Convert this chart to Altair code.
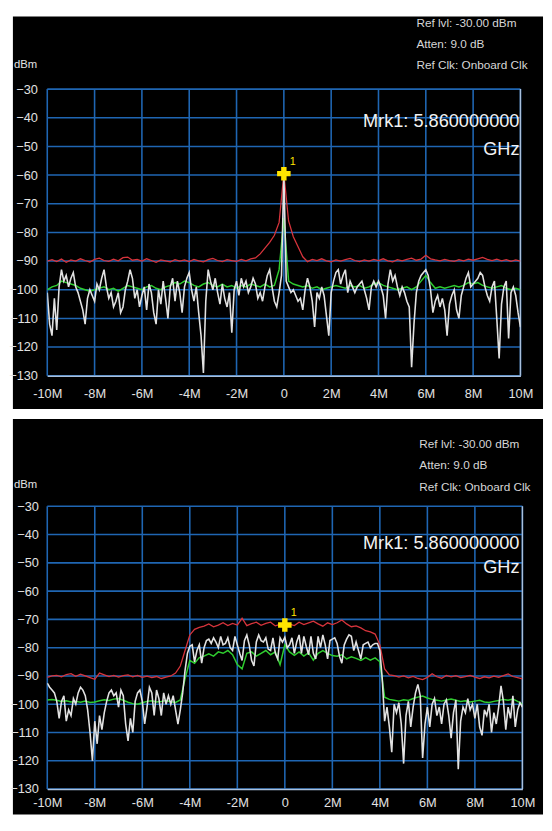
import altair as alt
import numpy as np
import pandas as pd

# ---------------- data ----------------
X_TICKS = [-10, -8, -6, -4, -2, 0, 2, 4, 6, 8, 10]
Y_TICKS = [-130, -120, -110, -100, -90, -80, -70, -60, -50, -40, -30]
INFO_LINES = ["Ref lvl: -30.00 dBm", "Atten: 9.0 dB", "Ref Clk: Onboard Clk"]
MARKER_LINES = ["Mrk1: 5.860000000", "GHz"]
UNIT = "dBm"
MARKER_NAME = "1"

# top panel (0.1 MHz bins for live trace, 0.2 MHz for max-hold / average)
TOP_WHITE = [
    -101, -112, -116, -103, -114, -99, -93, -97, -95, -99,
    -96, -94, -99, -101, -104, -107, -112, -103, -100, -102,
    -104, -98, -100, -96, -93, -99, -103, -101, -106, -104,
    -101, -108, -106, -100, -97, -93, -96, -103, -100, -106,
    -102, -99, -107, -98, -101, -108, -112, -100, -105, -97,
    -103, -110, -99, -96, -104, -97, -101, -108, -99, -96,
    -94, -100, -104, -99, -108, -116, -129, -104, -93, -97,
    -100, -96, -101, -105, -98, -103, -106, -101, -115, -100,
    -97, -102, -96, -99, -97, -101, -99, -96, -98, -103,
    -101, -104, -99, -95, -93, -99, -104, -106, -101, -95,
    -59.5,
    -97, -99, -101, -100, -102, -104, -103, -107, -100, -96,
    -99, -104, -113, -101, -103, -99, -102, -109, -116, -101,
    -97, -94, -93, -98, -95, -93, -101, -97, -99, -101,
    -99, -98, -97, -100, -103, -107, -99, -97, -99, -97,
    -99, -102, -110, -98, -93, -97, -95, -99, -102, -99,
    -101, -104, -106, -127, -112, -101, -97, -95, -94, -93,
    -95, -100, -108, -104, -102, -106, -103, -107, -116, -105,
    -102, -100, -107, -110, -102, -99, -96, -94, -99, -98,
    -97, -96, -94, -95, -99, -102, -104, -99, -97, -110,
    -124, -105, -99, -97, -117, -101, -99, -102, -108, -113,
]
TOP_RED = [
    -90.0, -89.5, -90.2, -89.3, -90.4, -89.6, -90.0, -89.2, -89.8, -90.3,
    -89.4, -89.0, -89.8, -90.1, -89.3, -89.9, -88.8, -88.6, -89.7, -89.4,
    -90.0, -89.2, -89.8, -90.4, -89.6, -89.9, -90.3, -89.5, -90.0, -89.6,
    -90.2, -89.4, -89.9, -90.3, -89.5, -89.1, -89.8, -90.2, -89.5, -89.8,
    -90.1, -89.4, -89.9, -89.2, -88.9, -87.5, -85.5, -83.5, -81.0, -76.5,
    -59.5,
    -76.0, -81.5, -85.0, -88.5, -90.2, -89.4, -89.8, -89.2, -89.9, -90.3,
    -89.6, -90.0, -89.5, -89.1, -89.8, -90.2, -89.6, -90.0, -89.4, -89.8,
    -89.2, -89.9, -90.3, -89.5, -89.9, -89.4, -89.0, -89.7, -89.3, -88.0,
    -89.2, -89.6, -89.9, -89.4, -89.8, -90.1, -89.5, -89.9, -89.3, -89.7,
    -89.2, -88.7, -89.4, -89.8, -89.3, -89.9, -89.5, -90.1, -89.6, -90.0,
]
TOP_GREEN = [
    -100, -99, -98.5, -97, -97.5, -98, -98.5, -99.5, -100, -100.5,
    -100, -99.5, -99, -100, -99.5, -100.5, -99.5, -98.5, -99, -99.5,
    -100, -99, -98.5, -99.5, -100, -99, -98.5, -97.5, -98, -97,
    -97.5, -98.5, -99, -98, -97.5, -98.5, -99, -98, -99, -98.5,
    -99.5, -98.5, -99, -98, -98.5, -99, -98, -99, -98.5, -93,
    -75,
    -97, -98, -98.5, -99, -98.5, -99.5, -99, -100, -99.5, -99,
    -98.5, -99, -99.5, -98.5, -99, -98.5, -99.5, -99, -98, -97.5,
    -98.5, -99, -99.5, -100, -99.5, -99, -100, -99, -97, -95,
    -97.5, -99.5, -99, -99.5, -99, -98.5, -99, -98.5, -97.5, -98,
    -97.5, -98.5, -99, -99.5, -99, -98.5, -99.5, -100, -99.5, -100,
]
TOP_MARKER = {"f": [0.0], "v": [-59.5]}

# bottom panel
BOT_WHITE = [
    -92.5, -94, -95, -96, -99, -105, -99, -97, -106, -102,
    -104, -98, -100, -96, -94, -95, -97, -102, -110, -120,
    -106, -114, -104, -109, -103, -99, -96, -95, -97, -96,
    -101, -95, -97, -107, -113, -105, -110, -99, -96, -95,
    -99, -107, -101, -94, -96, -104, -95, -98, -104, -96,
    -100, -97, -100, -97, -102, -107, -102, -96, -88, -82,
    -79.5, -79, -85, -81, -79, -85.5, -80, -77.5, -77, -78.5,
    -76.5, -78, -80, -76, -79, -78.5, -76.5, -80, -81, -76,
    -79, -82, -84.5, -77.5, -75.5, -79, -84.5, -86.5, -78, -75.5,
    -77.5, -78, -76.5, -80.5, -81, -76.5, -82, -84, -76.5, -78,
    -76.3, -80, -79, -76.5, -82, -78, -75.5, -82, -76, -79.5,
    -82.5, -76, -82, -84, -76, -80, -75.5, -79, -84, -77.5,
    -77, -76.5, -78.5, -83, -85.5, -79, -77, -75.5, -76, -81,
    -78, -81, -84, -79, -78.5, -78, -80, -79, -78.5, -78.5,
    -81, -91, -106, -101, -108, -117, -100, -103, -99.5, -107,
    -121, -104, -99, -108, -101, -96, -93, -97, -119, -107,
    -101, -108, -100, -98, -104, -101, -107, -100, -98.5, -104,
    -112, -103, -98.5, -123, -106, -101, -103, -98, -102, -100,
    -105, -100, -108, -111, -102, -104, -100, -110, -103, -107,
    -101, -93.5, -99, -109, -101, -105, -97, -108, -102, -99.5, -101,
]
BOT_RED = [
    -90.5, -90, -89.8, -90.3, -89.5, -89.2, -90.1, -89.4, -90, -90.6,
    -91.2, -89, -89.6, -90.2, -89.8, -90.4, -89.9, -89.6, -90.3, -89.8,
    -90.5, -90.1, -90.6, -90.2, -90.9, -90.4, -90, -89, -86.5, -81,
    -75.5, -73.5, -72.8, -72.4, -71.6, -72.6, -72, -71.2, -72.2, -71.4,
    -72, -69.6, -72.2, -71.5, -71, -72.1, -71.4, -71, -72.3, -71.8,
    -71.5,
    -71.7, -72.2, -71, -71.8, -71.2, -70.6, -71.6, -72.4, -71.2, -71.8,
    -71.2, -70.2, -71.6, -72.6, -72.3, -73, -74, -74.4, -75.2, -79,
    -87.5, -89.6, -89.9, -90.4, -90, -90.7, -90.2, -90.9, -91.3, -90.5,
    -89.2, -90.3, -90.8, -89.8, -90.3, -89.9, -90.6, -90.2, -89.8, -90.4,
    -90.9, -90.3, -90.7, -90.1, -90.5, -89.9, -89.3, -90.2, -90.6, -91,
]
BOT_GREEN = [
    -98.5, -98.3, -98.6, -99, -98.8, -99.2, -99, -99.3, -98.9, -99.4,
    -99.2, -98.8, -98.4, -98.7, -98.2, -98, -98.6, -99.3, -99.8, -100,
    -99.5, -99, -98.8, -99.2, -99, -98.7, -99.1, -99.4, -98.5, -91,
    -84.5, -85.5, -83.5, -83, -82.2, -83, -81.5, -82, -81, -82.5,
    -86, -87.5, -82, -81.5, -83, -82, -81, -82.5, -81.5, -86,
    -79,
    -81.5, -82.7, -81.5, -83, -81.8, -84.4, -82, -81, -82, -82.8,
    -83, -82.5, -84, -83.2, -83.8, -84.5, -83.5, -84.4, -83.6, -85,
    -97.5, -98.3, -98.6, -98.9, -98.4, -98.7, -98, -97.5, -97.1, -97.8,
    -98.3, -98.6, -98.9, -98.5, -98.2, -98.6, -99, -98.8, -99.2, -98.9,
    -98.6, -99.2, -99.4, -99, -98.7, -98.3, -98.6, -98.2, -99, -100,
]
BOT_MARKER = {"f": [0.0], "v": [-72.0]}

# ---------------- style ----------------
GRID = "#1f66b3"
BORDER = "#a9bfdc"
RED = "#d8343c"
GREEN = "#2fcc2f"
WHITE = "#e2e2e2"
YELLOW = "#ffe400"
LABEL = "#e2e2e2"
FONT = "Liberation Sans Narrow, Liberation Sans, Arial, sans-serif"
WIDE_FONT = "Liberation Sans, Arial, sans-serif"

ONE = pd.DataFrame({"k": [0]})


def trace_df(vals):
    f = np.round(np.linspace(-10, 10, len(vals)), 4)
    return pd.DataFrame({"f": f, "v": vals})


def text_layer(text, x, y, size, color, font, align="left"):
    return alt.Chart(ONE).mark_text(
        text=text, align=align, baseline="middle", fontSize=size, font=font, color=color,
    ).encode(x=alt.value(x), y=alt.value(y))


def panel(white, red, green, marker, g):
    W, H = g["W"], g["H"]
    xs = alt.Scale(domain=[-10, 10], nice=False, zero=False)
    ys = alt.Scale(domain=[-130, -30], nice=False, zero=False)
    xaxis = alt.Axis(values=X_TICKS, labelExpr="datum.value == 0 ? '0' : datum.value + 'M'",
                     grid=False, ticks=False, domain=True, domainColor=BORDER, domainWidth=1.6,
                     labelColor=LABEL, labelFont=FONT, labelFontSize=13,
                     labelPadding=g["xpad"], labelFlush=False, labelOverlap=False,
                     title=None, zindex=1)
    yaxis = alt.Axis(values=Y_TICKS, grid=False, ticks=False, domain=False,
                     labelColor=LABEL, labelFont=FONT, labelFontSize=13,
                     labelPadding=g["ypad"], labelOverlap=False, title=None, zindex=1)
    X = lambda: alt.X("f:Q", scale=xs, axis=xaxis)
    Y = lambda: alt.Y("v:Q", scale=ys, axis=yaxis)

    bg = alt.Chart(ONE).mark_rect(color="black").encode(
        x=alt.value(g["rx1"]), x2=alt.value(g["rx2"]),
        y=alt.value(g["ry1"]), y2=alt.value(g["ry2"]))
    vgrid = alt.Chart(pd.DataFrame({"f": X_TICKS})).mark_rule(
        color=GRID, strokeWidth=1.6).encode(x=X())
    hgrid = alt.Chart(pd.DataFrame({"v": Y_TICKS})).mark_rule(
        color=GRID, strokeWidth=1.6).encode(y=Y())
    rborder = alt.Chart(pd.DataFrame({"f": [X_TICKS[-1]]})).mark_rule(
        color=BORDER, strokeWidth=1.4).encode(x=X())
    red_l = alt.Chart(trace_df(red)).mark_line(color=RED, strokeWidth=1.3, clip=True).encode(x=X(), y=Y())
    green_l = alt.Chart(trace_df(green)).mark_line(color=GREEN, strokeWidth=1.5, clip=True).encode(x=X(), y=Y())
    white_l = alt.Chart(trace_df(white)).mark_line(color=WHITE, strokeWidth=1.6, clip=True).encode(x=X(), y=Y())
    mk_df = pd.DataFrame(marker)
    mk = alt.Chart(mk_df).mark_point(shape="cross", filled=True, color=YELLOW, size=190,
                                     opacity=1).encode(x=X(), y=Y())
    mk1 = alt.Chart(mk_df).mark_text(text=MARKER_NAME, dx=9, dy=-12, color=YELLOW,
                                     fontSize=11, font=FONT).encode(x=X(), y=Y())

    texts = [text_layer(UNIT, g["ux"], g["uy"], 11.5, LABEL, FONT)]
    for i, line in enumerate(INFO_LINES):
        texts.append(text_layer(line, g["ix"], g["iy"] + i * g["ilh"], 12, "#d6d6d6", FONT))
    for i, line in enumerate(MARKER_LINES):
        texts.append(text_layer(line, g["mx"], g["my"] + i * g["mlh"], 18.5, "#f2f2f2",
                                WIDE_FONT, align="right"))

    return alt.layer(bg, vgrid, hgrid, rborder, red_l, green_l, white_l, mk, mk1, *texts).properties(
        width=W, height=H)


# plot origin of both panels sits at page x = 43
TOP_G = dict(W=482, H=292, rx1=-35, rx2=505, ry1=-74, ry2=326,
             xpad=12, ypad=10, ux=-34, uy=-24, ix=376, iy=-67, ilh=21.5,
             mx=481, my=33, mlh=28)
BOT_G = dict(W=484, H=288, rx1=-35, rx2=505, ry1=-89, ry2=314,
             xpad=8, ypad=9, ux=-34, uy=-22, ix=379, iy=-63, ilh=21.5,
             mx=481, my=37, mlh=25)

top = panel(TOP_WHITE, TOP_RED, TOP_GREEN, TOP_MARKER, TOP_G)
bottom = panel(BOT_WHITE, BOT_RED, BOT_GREEN, BOT_MARKER, BOT_G)

chart = alt.vconcat(top, bottom, spacing=8).properties(
    padding=0, background="white"
).configure_view(stroke="transparent")

chart.save("out.html", embed_options={"renderer": "svg", "actions": False})
